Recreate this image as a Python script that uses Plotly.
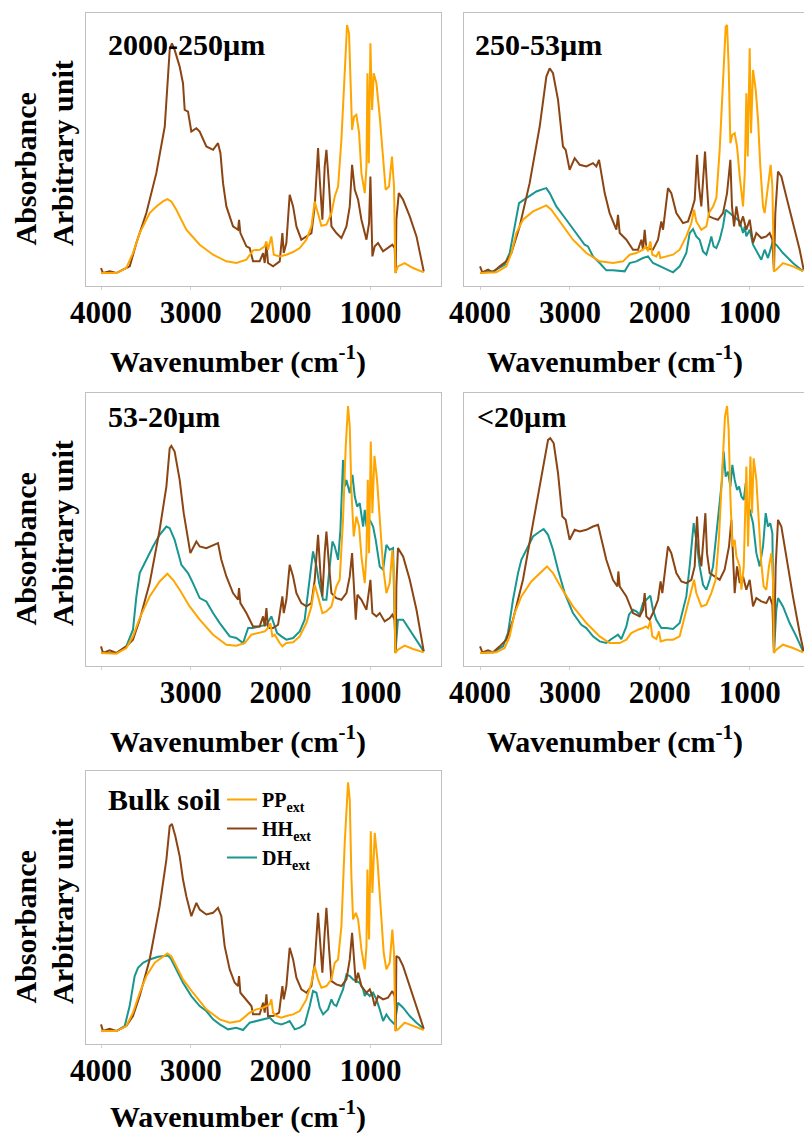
import plotly.graph_objects as go

# ---------------- data (wavenumber cm-1, absorbance in arbitrary units) ----------------
P1_HH = [(4000,15),(3978,0),(3903,5),(3829,0),(3755,10),(3680,20),(3606,90),(3495,180),(3384,300),(3290,440),(3235,670),(3210,690),(3180,670),(3124,620),(3087,570),(3068,490),(3031,485),(2994,425),(2938,435),(2901,425),(2827,380),(2752,370),(2697,390),(2670,360),(2641,270),(2604,200),(2530,140),(2474,130),(2463,160),(2448,120),(2381,80),(2344,75),(2307,35),(2233,35),(2195,60),(2177,30),(2158,85),(2140,30),(2084,20),(2010,35),(1980,120),(1965,60),(1936,90),(1899,235),(1861,200),(1824,140),(1769,100),(1713,110),(1657,120),(1620,200),(1583,375),(1564,280),(1535,160),(1509,320),(1490,370),(1460,260),(1434,140),(1379,120),(1323,105),(1267,140),(1230,200),(1204,325),(1174,250),(1137,220),(1100,160),(1044,100),(1015,150),(1000,290),(985,120),(978,50),(952,80),(915,90),(859,65),(804,75),(756,85),(730,75),(718,0),(711,160),(684,240),(636,220),(562,170),(487,110),(406,5)]
P1_PP = [(4000,0),(3829,0),(3718,15),(3644,60),(3569,120),(3458,180),(3384,200),(3310,215),(3261,222),(3217,215),(3161,190),(3050,130),(2901,85),(2752,55),(2604,35),(2493,30),(2381,40),(2307,68),(2233,70),(2177,80),(2158,95),(2140,70),(2103,110),(2076,55),(2010,50),(1936,55),(1861,63),(1787,75),(1713,100),(1657,140),(1620,215),(1583,180),(1546,142),(1490,145),(1434,180),(1397,230),(1360,260),(1323,400),(1286,620),(1260,745),(1238,720),(1223,570),(1204,430),(1182,470),(1156,475),(1126,420),(1100,300),(1063,240),(1044,320),(1033,600),(1018,330),(1000,690),(981,490),(963,600),(933,570),(896,470),(859,340),(830,250),(793,260),(760,350),(737,260),(722,0),(693,20),(619,30),(525,15),(406,2)]

P2_HH = [(4000,20),(3974,2),(3911,10),(3855,2),(3781,20),(3707,35),(3651,60),(3559,140),(3448,270),(3336,440),(3262,590),(3225,615),(3188,600),(3132,520),(3077,380),(3047,370),(3003,310),(2947,345),(2891,325),(2817,320),(2743,330),(2706,320),(2676,340),(2650,300),(2613,240),(2558,180),(2483,130),(2465,175),(2446,120),(2372,100),(2298,70),(2242,70),(2205,100),(2187,70),(2168,130),(2150,75),(2076,70),(2020,100),(1983,155),(1964,130),(1909,255),(1872,240),(1816,180),(1742,150),(1686,155),(1649,185),(1612,220),(1586,355),(1564,260),(1538,200),(1519,280),(1497,365),(1475,260),(1453,170),(1408,165),(1353,160),(1297,180),(1252,240),(1215,340),(1197,200),(1174,140),(1148,200),(1111,140),(1074,170),(1037,130),(1000,160),(963,90),(926,120),(871,105),(815,110),(778,120),(748,100),(730,5),(715,180),(685,305),(648,290),(593,230),(519,150),(444,70),(400,10)]
P2_PP = [(4000,0),(3818,2),(3707,20),(3651,60),(3596,120),(3522,160),(3410,185),(3299,200),(3262,203),(3207,190),(3114,155),(2966,100),(2817,60),(2669,35),(2521,30),(2409,35),(2335,55),(2261,60),(2187,70),(2157,80),(2131,65),(2105,95),(2083,55),(2039,50),(2009,65),(1994,45),(1927,50),(1853,55),(1779,70),(1705,110),(1649,150),(1619,190),(1594,155),(1538,130),(1482,140),(1453,180),(1408,200),(1371,225),(1334,370),(1297,570),(1267,740),(1252,745),(1234,620),(1215,390),(1193,415),(1167,420),(1141,380),(1111,290),(1074,200),(1055,300),(1037,540),(1022,350),(1000,675),(985,420),(963,610),(933,550),(907,460),(882,320),(852,200),(834,180),(797,260),(767,325),(748,260),(730,5),(704,10),(630,30),(519,20),(406,5)]
P2_DH = [(4000,0),(3855,5),(3726,25),(3670,60),(3614,140),(3566,210),(3485,225),(3373,245),(3299,252),(3262,255),(3225,240),(3151,200),(3040,160),(2928,120),(2836,85),(2799,80),(2743,50),(2669,30),(2595,8),(2521,8),(2446,5),(2391,5),(2335,30),(2261,35),(2187,45),(2131,50),(2076,30),(2002,20),(1927,12),(1853,2),(1779,20),(1705,60),(1668,120),(1631,132),(1594,110),(1557,100),(1519,65),(1482,55),(1445,90),(1427,110),(1401,80),(1371,75),(1334,100),(1297,140),(1267,190),(1223,180),(1167,165),(1111,155),(1074,120),(1055,140),(1037,110),(1000,130),(963,85),(907,60),(871,40),(834,70),(797,45),(748,90),(704,85),(630,60),(519,30),(406,5)]

P3_HH = [(4000,20),(3978,0),(3903,8),(3829,0),(3718,20),(3644,40),(3569,100),(3458,210),(3347,370),(3272,500),(3235,615),(3217,622),(3180,605),(3124,520),(3079,420),(3042,360),(3005,300),(2938,335),(2901,320),(2827,315),(2752,325),(2697,330),(2660,280),(2604,230),(2530,180),(2474,160),(2463,195),(2448,150),(2381,120),(2307,80),(2233,80),(2195,110),(2177,80),(2158,135),(2140,75),(2084,75),(2028,85),(1980,170),(1965,120),(1936,160),(1899,265),(1861,230),(1824,180),(1769,150),(1713,140),(1657,150),(1620,220),(1583,355),(1557,240),(1535,170),(1509,300),(1490,365),(1460,260),(1434,180),(1379,165),(1323,160),(1267,180),(1230,230),(1204,300),(1182,200),(1163,100),(1145,175),(1100,160),(1044,130),(1015,180),(1000,220),(978,120),(933,110),(896,120),(841,95),(785,105),(756,115),(730,100),(718,0),(711,200),(693,315),(636,290),(562,220),(487,130),(406,5)]
P3_PP = [(4000,0),(3829,-2),(3718,15),(3644,50),(3569,105),(3458,170),(3347,215),(3261,238),(3198,220),(3124,190),(3013,140),(2901,100),(2752,55),(2604,25),(2493,22),(2400,30),(2325,55),(2233,60),(2177,65),(2140,75),(2114,90),(2092,50),(2065,55),(2010,30),(1980,20),(1936,30),(1861,32),(1787,50),(1713,90),(1657,140),(1620,205),(1583,170),(1535,120),(1490,125),(1434,140),(1379,200),(1342,220),(1305,400),(1275,620),(1249,742),(1230,680),(1212,490),(1186,350),(1156,410),(1126,380),(1100,290),(1063,210),(1044,300),(1029,520),(1015,300),(996,635),(978,420),(955,592),(926,520),(896,400),(859,260),(822,180),(785,210),(756,310),(737,240),(722,0),(693,10),(619,22),(525,12),(406,2)]
P3_DH = [(4000,0),(3829,0),(3718,20),(3644,70),(3606,170),(3569,240),(3495,280),(3421,320),(3347,355),(3272,380),(3235,375),(3180,340),(3105,265),(3031,240),(2976,210),(2901,165),(2827,155),(2752,120),(2678,90),(2567,50),(2493,45),(2418,30),(2362,75),(2307,75),(2233,80),(2158,85),(2103,110),(2076,90),(2039,60),(1991,50),(1936,40),(1861,45),(1787,65),(1732,100),(1676,220),(1639,305),(1601,260),(1571,210),(1527,160),(1490,160),(1453,260),(1423,335),(1397,320),(1360,280),(1334,370),(1305,580),(1286,500),(1267,520),(1230,480),(1200,535),(1174,470),(1148,440),(1119,450),(1081,380),(1063,430),(1044,380),(1007,400),(970,380),(941,340),(896,260),(859,250),(822,325),(785,310),(748,315),(722,0),(693,100),(636,100),(562,70),(487,40),(406,5)]

P4_HH = [(4000,20),(3974,2),(3911,8),(3855,2),(3781,20),(3707,40),(3633,100),(3522,220),(3410,390),(3299,560),(3243,640),(3218,645),(3180,630),(3132,540),(3084,410),(3047,400),(3003,340),(2947,370),(2891,365),(2817,370),(2743,380),(2687,385),(2650,340),(2595,280),(2521,220),(2472,200),(2461,245),(2446,200),(2372,170),(2298,120),(2224,110),(2187,130),(2168,180),(2150,110),(2113,100),(2076,120),(2020,160),(1991,215),(1972,180),(1909,320),(1872,300),(1816,240),(1760,215),(1705,210),(1649,220),(1612,260),(1586,410),(1564,300),(1538,260),(1519,340),(1493,420),(1475,300),(1445,240),(1390,230),(1334,220),(1279,250),(1230,320),(1204,400),(1186,280),(1167,180),(1141,260),(1111,210),(1074,230),(1037,190),(1000,220),(963,140),(926,165),(871,155),(815,150),(778,170),(748,145),(730,0),(711,260),(685,400),(648,380),(593,290),(519,170),(444,60),(400,5)]
P4_PP = [(4000,0),(3818,2),(3726,15),(3670,50),(3614,120),(3540,170),(3429,215),(3318,245),(3255,260),(3188,240),(3095,195),(2966,140),(2817,90),(2669,50),(2558,30),(2446,30),(2372,40),(2317,60),(2243,70),(2187,75),(2157,80),(2131,75),(2105,95),(2083,50),(2039,42),(2009,65),(1990,35),(1927,40),(1853,40),(1779,50),(1705,130),(1649,190),(1619,220),(1594,180),(1538,140),(1482,145),(1427,180),(1379,220),(1341,350),(1305,550),(1275,710),(1252,742),(1234,670),(1215,470),(1193,320),(1167,340),(1148,290),(1111,260),(1092,190),(1066,260),(1037,560),(1018,320),(992,590),(974,420),(956,585),(926,520),(896,400),(871,270),(845,200),(815,190),(786,260),(759,300),(741,220),(730,0),(704,10),(630,25),(519,15),(406,2)]
P4_DH = [(4000,0),(3855,2),(3744,20),(3689,60),(3633,160),(3577,240),(3540,280),(3485,310),(3410,350),(3336,365),(3292,372),(3243,355),(3188,310),(3132,250),(3058,180),(2966,120),(2873,85),(2817,75),(2743,50),(2669,35),(2595,30),(2550,40),(2502,50),(2465,55),(2428,42),(2372,80),(2343,115),(2298,130),(2261,125),(2224,115),(2187,150),(2150,160),(2105,172),(2076,130),(2039,100),(1983,75),(1927,75),(1853,72),(1779,90),(1705,170),(1668,260),(1623,390),(1594,340),(1557,260),(1519,205),(1482,190),(1445,220),(1408,260),(1371,360),(1334,440),(1308,520),(1290,605),(1267,530),(1241,545),(1215,500),(1193,565),(1167,520),(1141,490),(1118,500),(1092,470),(1066,460),(1044,510),(1029,450),(1000,430),(963,390),(926,300),(889,260),(852,320),(822,420),(797,380),(771,390),(748,360),(730,0),(704,130),(685,165),(630,140),(556,90),(482,50),(406,5)]

P5_HH = [(4000,20),(3978,0),(3903,7),(3829,0),(3718,15),(3644,45),(3569,105),(3458,215),(3347,375),(3272,515),(3235,615),(3210,622),(3172,585),(3124,525),(3087,455),(3050,405),(2994,345),(2938,385),(2901,365),(2827,350),(2752,355),(2697,370),(2660,345),(2623,255),(2567,185),(2511,145),(2474,135),(2463,165),(2448,115),(2381,95),(2325,75),(2307,50),(2233,50),(2195,85),(2177,55),(2158,110),(2140,45),(2084,45),(2017,55),(1980,135),(1965,95),(1936,135),(1899,250),(1861,215),(1824,160),(1769,125),(1713,115),(1657,135),(1620,205),(1583,355),(1557,265),(1535,175),(1509,295),(1490,370),(1460,245),(1434,150),(1379,140),(1323,135),(1267,155),(1230,215),(1204,295),(1182,215),(1163,145),(1137,175),(1100,135),(1044,115),(1007,125),(978,105),(952,75),(915,105),(859,95),(804,100),(756,120),(730,105),(718,0),(711,225),(681,220),(636,195),(562,135),(487,75),(406,7)]
P5_PP = [(4000,0),(3829,0),(3718,15),(3644,55),(3569,115),(3495,165),(3402,205),(3310,225),(3261,233),(3217,225),(3161,195),(3087,155),(2976,115),(2827,65),(2678,35),(2567,25),(2455,30),(2344,55),(2270,65),(2195,70),(2158,75),(2121,80),(2103,95),(2084,55),(2047,45),(1991,40),(1936,45),(1861,50),(1787,60),(1713,95),(1657,145),(1620,195),(1583,155),(1546,130),(1490,135),(1434,155),(1397,205),(1360,215),(1323,315),(1286,565),(1249,747),(1230,695),(1212,465),(1193,335),(1163,355),(1137,335),(1100,245),(1063,185),(1044,255),(1033,485),(1015,275),(996,600),(978,415),(952,595),(922,515),(889,375),(852,235),(822,185),(785,205),(756,305),(737,235),(722,0),(693,5),(619,25),(525,15),(406,3)]
P5_DH = [(4000,0),(3829,0),(3736,15),(3681,75),(3625,165),(3588,190),(3532,205),(3458,215),(3365,223),(3291,225),(3254,227),(3217,215),(3161,185),(3087,145),(2994,105),(2901,75),(2827,60),(2752,35),(2678,20),(2585,5),(2493,10),(2418,3),(2344,25),(2270,30),(2195,35),(2121,40),(2065,25),(1991,20),(1936,25),(1899,30),(1843,5),(1787,10),(1732,20),(1676,75),(1639,120),(1601,115),(1564,70),(1527,50),(1472,65),(1434,95),(1408,80),(1379,75),(1342,100),(1305,125),(1267,170),(1230,165),(1193,155),(1156,150),(1119,145),(1081,125),(1063,105),(1044,115),(1007,105),(970,115),(933,95),(896,65),(859,30),(822,50),(785,35),(748,25),(730,20),(693,85),(636,70),(562,45),(487,25),(406,7)]

PANEL_TITLES = ["2000-250µm", "250-53µm", "53-20µm", "<20µm", "Bulk soil"]
PANEL_SERIES = [
    {"HH": P1_HH, "PP": P1_PP},
    {"DH": P2_DH, "HH": P2_HH, "PP": P2_PP},
    {"DH": P3_DH, "HH": P3_HH, "PP": P3_PP},
    {"DH": P4_DH, "HH": P4_HH, "PP": P4_PP},
    {"DH": P5_DH, "HH": P5_HH, "PP": P5_PP},
]
SERIES_NAMES = {"PP": "PP<sub>ext</sub>", "HH": "HH<sub>ext</sub>", "DH": "DH<sub>ext</sub>"}
SERIES_COLORS = {"PP": "#FFA500", "HH": "#8B4513", "DH": "#1A9690"}
TICK_VALUES = [4000, 3000, 2000, 1000]
TICK_TEXTS = [["4000", "3000", "2000", "1000"],
              ["4000", "3000", "2000", "1000"],
              ["", "3000", "2000", "1000"],
              ["4000", "3000", "2000", "1000"],
              ["4000", "3000", "2000", "1000"]]
X_TITLE = "Wavenumber (cm<sup>-1</sup>)"
Y_TITLE_1 = "Absorbance"
Y_TITLE_2 = "Arbitrary unit"

# ---------------- layout (pixel geometry) ----------------
W, H = 804, 1134
FONT = "Liberation Serif, Times New Roman, serif"

def fx(px):
    return px / W

def fy(py):
    return 1 - py / H

# panel boxes: (left, right, top, bottom) in px
BOXES = [(86, 441, 13, 286), (464, 804, 13, 286),
         (86, 441, 393, 666), (464, 804, 393, 666),
         (86, 441, 771, 1044)]
XRANGES = [[4167, 214], [4178, 396], [4167, 214], [4178, 396], [4167, 214]]
YRANGE = [-39, 781]
LABEL_POS = [(106, 45), (473, 45), (106, 417), (475, 417), (106, 799)]
XTITLE_X = [238, 615, 238, 615, 238]
XTITLE_DY = [73, 73, 73, 73, 70]

fig = go.Figure()
layout = dict(
    width=W, height=H,
    margin=dict(l=0, r=0, t=0, b=0, autoexpand=False),
    paper_bgcolor="white", plot_bgcolor="white",
    showlegend=True,
    font=dict(family=FONT, color="black"),
)
annotations = []

for i, series in enumerate(PANEL_SERIES):
    n = i + 1
    xa = "x" if n == 1 else f"x{n}"
    ya = "y" if n == 1 else f"y{n}"
    for key, pts in series.items():
        fig.add_trace(go.Scatter(
            x=[p[0] for p in pts], y=[p[1] for p in pts],
            mode="lines", name=SERIES_NAMES[key],
            line=dict(color=SERIES_COLORS[key], width=2),
            xaxis=xa, yaxis=ya,
            showlegend=(n == 5), hoverinfo="skip",
        ))
    l, r, t, b = BOXES[i]
    layout["xaxis" if n == 1 else f"xaxis{n}"] = dict(
        domain=[fx(l), fx(r)], range=XRANGES[i], anchor=ya, automargin=False,
        showgrid=False, zeroline=False,
        showline=True, mirror=True, linecolor="#c0c0c0", linewidth=1,
        tickmode="array", tickvals=TICK_VALUES, ticktext=TICK_TEXTS[i],
        ticks="outside", ticklen=3, tickcolor="#d0d0d0",
        ticklabelstandoff=-4,
        tickfont=dict(family=FONT, size=31, color="black", weight="bold"),
    )
    layout["yaxis" if n == 1 else f"yaxis{n}"] = dict(
        domain=[fy(b), fy(t)], range=YRANGE, anchor=xa, automargin=False,
        showgrid=False, zeroline=False, showticklabels=False, ticks="",
        showline=True, mirror=True, linecolor="#c0c0c0", linewidth=1,
    )
    # panel label
    lx, ly = LABEL_POS[i]
    annotations.append(dict(
        text=f"<b>{PANEL_TITLES[i]}</b>", xref="paper", yref="paper",
        x=fx(lx), y=fy(ly), xanchor="left", yanchor="middle", showarrow=False,
        font=dict(family=FONT, size=30, color="black"),
    ))
    # x title
    annotations.append(dict(
        text=f"<b>{X_TITLE}</b>", xref="paper", yref="paper",
        x=fx(XTITLE_X[i]), y=fy(b + XTITLE_DY[i]), xanchor="center", yanchor="middle",
        showarrow=False, font=dict(family=FONT, size=30, color="black"),
    ))
    # y titles (left column only)
    if l < 100:
        annotations.append(dict(
            text=f"<b>{Y_TITLE_1}</b>", xref="paper", yref="paper",
            x=fx(25), y=fy(t + 235), xanchor="center", yanchor="bottom",
            textangle=-90, showarrow=False,
            font=dict(family=FONT, size=30, color="black"),
        ))
        annotations.append(dict(
            text=f"<b>{Y_TITLE_2}</b>", xref="paper", yref="paper",
            x=fx(62), y=fy(t + 235), xanchor="center", yanchor="bottom",
            textangle=-90, showarrow=False,
            font=dict(family=FONT, size=30, color="black"),
        ))

layout["annotations"] = annotations
layout["legend"] = dict(
    x=fx(222), y=fy(780), xanchor="left", yanchor="top",
    bgcolor="rgba(0,0,0,0)", borderwidth=0,
    traceorder="reversed", itemwidth=30,
    font=dict(family=FONT, size=20, color="black", weight="bold"),
    tracegroupgap=0,
)
fig.update_layout(**layout)
fig.write_html("out.html")
